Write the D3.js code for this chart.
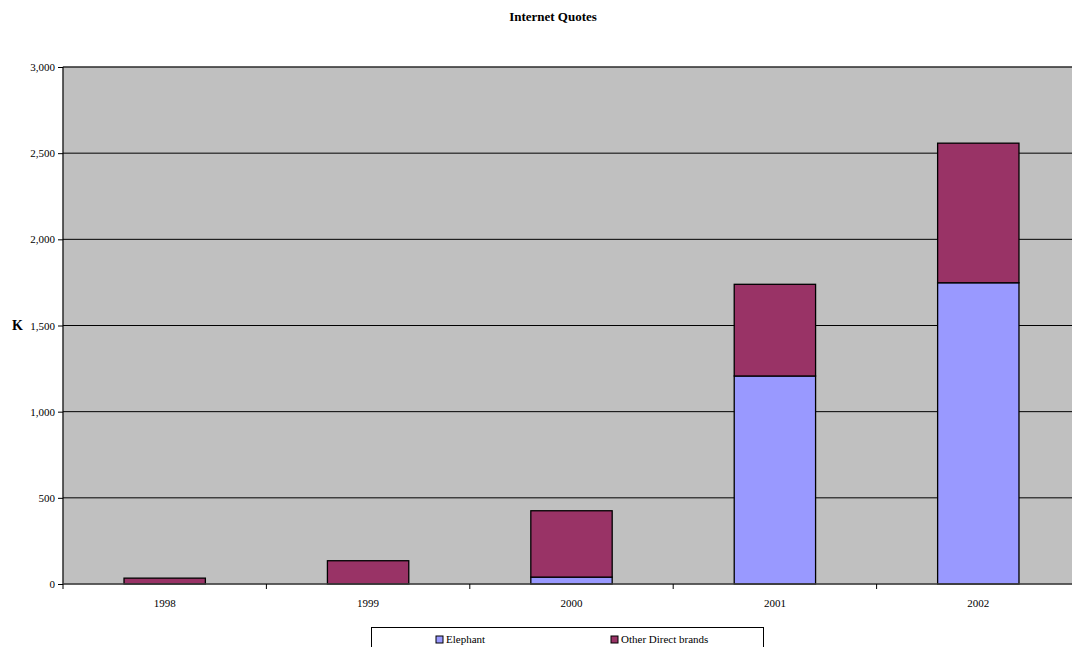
<!DOCTYPE html>
<html>
<head>
<meta charset="utf-8">
<script src="https://cdn.jsdelivr.net/npm/d3@7"></script>
<style>
  body { margin: 0; background: #fff; }
  svg { display: block; font-family: "Liberation Serif", "Times New Roman", serif; }
</style>
</head>
<body>
<div id="chart"></div>
<script>
// data
var years = ["1998", "1999", "2000", "2001", "2002"];
var elephant = [0, 0, 40, 1207, 1748];
var otherDirect = [34, 135, 385, 532, 810];
var seriesNames = ["Elephant", "Other Direct brands"];
var seriesColors = ["#9999FF", "#993366"];
var yTicks = [0, 500, 1000, 1500, 2000, 2500, 3000];

var W = 1072, H = 647;
var margin = {top: 67, right: -8, bottom: 63, left: 63};
var width = W - margin.left - margin.right,
    height = H - margin.top - margin.bottom;

var rows = years.map(function(y, i) {
  return {year: y, Elephant: elephant[i], "Other Direct brands": otherDirect[i]};
});
var stacked = d3.stack().keys(seriesNames)(rows);

var x = d3.scaleBand().domain(years).range([0, width]).paddingInner(0.6).paddingOuter(0.3);
var xTick = d3.scaleLinear().domain([0, years.length]).range([0, width]);
var y = d3.scaleLinear().domain([0, 3000]).range([height, 0]);

var svg = d3.select("#chart").append("svg")
    .attr("width", W).attr("height", H);

svg.append("text")
    .attr("x", 553).attr("y", 21)
    .attr("text-anchor", "middle")
    .attr("font-weight", "bold")
    .attr("font-size", 13)
    .text("Internet Quotes");

var g = svg.append("g")
    .attr("transform", "translate(" + margin.left + "," + margin.top + ")");

// plot background
g.append("rect")
    .attr("width", width).attr("height", height)
    .attr("fill", "#C0C0C0")
    .attr("stroke", "#808080").attr("stroke-width", 1);

// gridlines
g.selectAll(".grid")
    .data(yTicks.filter(function(d) { return d > 0; }))
    .enter().append("line")
    .attr("class", "grid")
    .attr("x1", 0).attr("x2", width)
    .attr("y1", function(d) { return y(d); })
    .attr("y2", function(d) { return y(d); })
    .attr("stroke", "#000").attr("stroke-width", 1);

// bars
g.selectAll(".series")
    .data(stacked)
    .enter().append("g")
    .attr("fill", function(d, i) { return seriesColors[i]; })
    .selectAll("rect")
    .data(function(d) { return d.filter(function(s) { return s[1] - s[0] > 0; }); })
    .enter().append("rect")
    .attr("x", function(d) { return x(d.data.year); })
    .attr("width", x.bandwidth())
    .attr("y", function(d) { return y(d[1]); })
    .attr("height", function(d) { return y(d[0]) - y(d[1]); })
    .attr("stroke", "#000").attr("stroke-width", 1.3);

// y axis
var yAxis = g.append("g")
    .call(d3.axisLeft(y).tickValues(yTicks).tickSize(5).tickPadding(3).tickFormat(d3.format(",")));
yAxis.selectAll("text").attr("font-size", 11).attr("font-family", "Liberation Serif, serif").attr("fill", "#000");
yAxis.select(".domain").attr("stroke", "#000").attr("d", "M0,0V" + height);

// x axis
var xAxis = g.append("g").attr("transform", "translate(0," + height + ")");
xAxis.append("line")
    .attr("x1", 0).attr("x2", width)
    .attr("stroke", "#404040").attr("stroke-width", 1.3);
xAxis.selectAll(".tk")
    .data(d3.range(years.length + 1))
    .enter().append("line")
    .attr("x1", function(d) { return xTick(d); })
    .attr("x2", function(d) { return xTick(d); })
    .attr("y1", 0).attr("y2", 5)
    .attr("stroke", "#000");
xAxis.selectAll(".lbl")
    .data(years)
    .enter().append("text")
    .attr("x", function(d) { return x(d) + x.bandwidth() / 2; })
    .attr("y", 23)
    .attr("text-anchor", "middle")
    .attr("font-size", 11)
    .text(function(d) { return d; });

// axis title
svg.append("text")
    .attr("x", 12).attr("y", 330)
    .attr("font-weight", "bold")
    .attr("font-size", 14)
    .text("K");

// legend
var legend = svg.append("g");
legend.append("rect")
    .attr("x", 371.5).attr("y", 627.5)
    .attr("width", 392).attr("height", 30)
    .attr("fill", "#fff").attr("stroke", "#000");
var legendX = [436, 611];
seriesNames.forEach(function(name, i) {
  legend.append("rect")
      .attr("x", legendX[i]).attr("y", 636)
      .attr("width", 7).attr("height", 7)
      .attr("fill", seriesColors[i]).attr("stroke", "#000");
  legend.append("text")
      .attr("x", legendX[i] + 10).attr("y", 643)
      .attr("font-size", 11)
      .text(name);
});
</script>
</body>
</html>
